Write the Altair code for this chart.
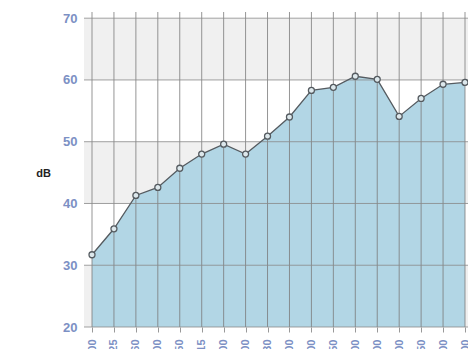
import altair as alt
import pandas as pd

freqs = ["100", "125", "160", "200", "250", "315", "400", "500", "630", "800",
         "1000", "1250", "1600", "2000", "2500", "3150", "4000", "5000"]
db = [31.7, 35.9, 41.3, 42.6, 45.7, 48.0, 49.6, 48.0, 50.9, 54.0,
      58.3, 58.8, 60.6, 60.1, 54.1, 57.0, 59.3, 59.6]
band_lo = [60, 40, 20]
band_hi = [70, 50, 30]
y_ticks = [20, 30, 40, 50, 60, 70]

df = pd.DataFrame({"f": freqs, "db": db})
bands = pd.DataFrame({"db": band_lo, "hi": band_hi})
hgrid = pd.DataFrame({"db": y_ticks})

xscale = alt.Scale(type="point", range=[8, 381], padding=0, domain=freqs)
yscale = alt.Scale(domain=[20, 71], nice=False, zero=False)

xaxis = alt.Axis(title=None, labelAngle=-90, labelFontSize=11, labelFontWeight="bold",
                 labelColor="#7c90c4", labelFont="Liberation Sans", tickSize=5,
                 tickColor="#999999", labelPadding=7, grid=False, domain=False)
yaxis = alt.Axis(title="dB", values=y_ticks, titleAngle=0,
                 titleX=-41, titleY=161, titleAlign="center", titleBaseline="middle",
                 titleFontSize=11, titleFontWeight="bold", titleColor="#222222",
                 titleFont="Liberation Sans",
                 labelFontSize=13, labelFontWeight="bold", labelColor="#7c90c4",
                 labelFont="Liberation Sans", ticks=False, labelPadding=7,
                 grid=False, domain=False)

X = alt.X("f:N", scale=xscale, axis=xaxis)
Y = alt.Y("db:Q", scale=yscale, axis=yaxis)

band = alt.Chart(bands).mark_rect(color="#f0f0f0").encode(y=Y, y2="hi:Q")

area = alt.Chart(df).mark_area(color="#b2d6e5", opacity=1).encode(
    x=X, y=Y, y2=alt.datum(20))

vrules = alt.Chart(df).mark_rule(color="#7a7a7a", strokeWidth=1, opacity=0.8).encode(
    x=X, y=alt.datum(20), y2=alt.datum(71))

hrules = alt.Chart(hgrid).mark_rule(color="#8a8a8a", strokeWidth=1, opacity=0.8).encode(y=Y)

line = alt.Chart(df).mark_line(color="#555b60", strokeWidth=1.3).encode(x=X, y=Y)
pts = alt.Chart(df).mark_point(shape="circle", size=36, filled=True, fill="#dde8ec",
                               stroke="#555b60", strokeWidth=1.3, opacity=1).encode(x=X, y=Y)

chart = alt.layer(band, area, vrules, hrules, line, pts).properties(
    width=384, height=315,
    autosize=alt.AutoSizeParams(type="none"),
    padding={"left": 84, "top": 12, "right": 0, "bottom": 22},
    background="white",
).configure_view(stroke=None)

chart.save("out.html", embed_options={"renderer": "svg", "actions": False})
